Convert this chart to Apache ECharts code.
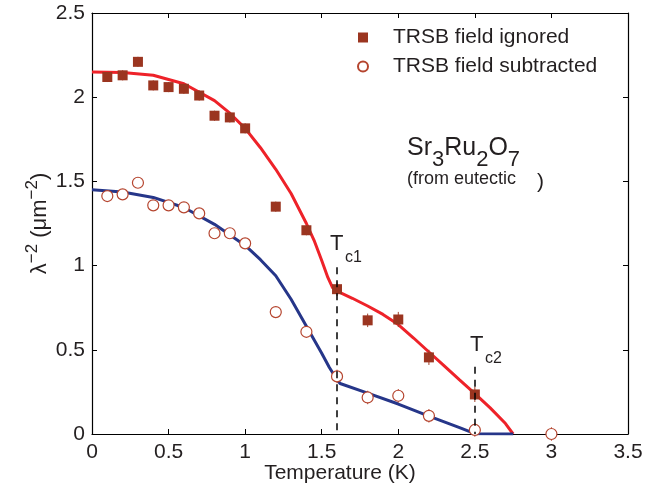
<!DOCTYPE html>
<html>
<head>
<meta charset="utf-8">
<script src="https://cdn.jsdelivr.net/npm/echarts@6/dist/echarts.min.js"></script>
<style>
  html, body { margin: 0; padding: 0; background: #fff; }
  #main { width: 665px; height: 496px; }
</style>
</head>
<body>
<div id="main"></div>
<script>
// measured points (temperature in K)
const tempPts = [0.1, 0.2, 0.3, 0.4, 0.5, 0.6, 0.7, 0.8, 0.9, 1.0, 1.2, 1.4, 1.6, 1.8, 2.0, 2.2, 2.5, 3.0];
const ignoredVals = [2.12, 2.13, 2.21, 2.07, 2.06, 2.05, 2.01, 1.89, 1.88, 1.815, 1.35, 1.21, 0.86, 0.675, 0.68, 0.455, 0.235, null];
const subtractedVals = [1.413, 1.423, 1.492, 1.358, 1.358, 1.346, 1.31, 1.192, 1.192, 1.132, 0.724, 0.607, 0.342, 0.217, 0.227, 0.108, 0.024, 0.0];
const ignoredErr = [0.03, 0.03, 0.03, 0.03, 0.03, 0.03, 0.03, 0.03, 0.03, 0.03, 0.03, 0.03, 0.04, 0.04, 0.045, 0.045, 0.045, 0];
const subtractedErr = [0.03, 0.03, 0.03, 0.03, 0.03, 0.03, 0.03, 0.03, 0.03, 0.03, 0.03, 0.03, 0.04, 0.04, 0.04, 0.04, 0.04, 0.04];

// fit curves
const redFitT = [0, 0.2, 0.4, 0.6, 0.8, 0.9, 1.0, 1.1, 1.2, 1.3, 1.4, 1.45, 1.5, 1.54, 1.57, 1.6, 1.7, 1.8, 1.9, 2.0, 2.1, 2.2, 2.3, 2.4, 2.5, 2.6, 2.7, 2.75];
const redFitV = [2.15, 2.147, 2.13, 2.08, 1.98, 1.905, 1.815, 1.70, 1.572, 1.428, 1.25, 1.15, 1.03, 0.93, 0.87, 0.848, 0.806, 0.76, 0.71, 0.65, 0.57, 0.487, 0.405, 0.322, 0.24, 0.155, 0.062, 0];
const blueFitT = [0, 0.2, 0.4, 0.6, 0.8, 1.0, 1.1, 1.2, 1.3, 1.4, 1.5, 1.55, 1.6, 1.62, 1.8, 2.0, 2.2, 2.3, 2.4, 2.5, 2.75];
const blueFitV = [1.45, 1.437, 1.405, 1.345, 1.245, 1.12, 1.035, 0.94, 0.80, 0.64, 0.48, 0.395, 0.322, 0.30, 0.243, 0.178, 0.106, 0.072, 0.038, 0.002, 0];

// Tc markers: temperature and top of dashed line
const tcTemps = [1.6, 2.5];
const tcTops = [0.99, 0.40];

const xTicks = { min: 0, max: 3.5, step: 0.5 };
const yTicks = { min: 0, max: 2.5, step: 0.5 };

const zip = (a, b) => a.map((x, i) => [x, b[i]]);
const errData = (vals, errs) => tempPts.map((t, i) => [t, vals[i], errs[i]]).filter(d => d[1] != null);

const FONT = '"Liberation Sans", Arial, Helvetica, sans-serif';
const TXT = '#231f20';

const errSeries = (data, color) => ({
  type: 'custom',
  silent: true,
  z: 3,
  data: data,
  renderItem: (params, api) => {
    const t = api.value(0), v = api.value(1), e = api.value(2);
    const p1 = api.coord([t, v - e]);
    const p2 = api.coord([t, v + e]);
    return {
      type: 'line',
      shape: { x1: p1[0], y1: p1[1], x2: p2[0], y2: p2[1] },
      style: { stroke: color, lineWidth: 1 }
    };
  }
});

const chart = echarts.init(document.getElementById('main'));

const axisCommon = {
  type: 'value',
  axisLine: { show: true, onZero: false, lineStyle: { color: '#000', width: 1.2 } },
  axisTick: { show: true, inside: true, length: 5, lineStyle: { color: '#000', width: 1 } },
  splitLine: { show: false }
};

const option = {
  backgroundColor: '#fff',
  animation: false,
  textStyle: { fontFamily: FONT },
  grid: { left: 92, right: 37, top: 13, bottom: 62, containLabel: false },
  legend: {
    orient: 'vertical',
    left: 357,
    top: 27,
    padding: 0,
    itemGap: 8,
    itemWidth: 10,
    itemHeight: 10,
    selectedMode: false,
    textStyle: { fontSize: 21, color: TXT, fontFamily: FONT, padding: [0, 0, 0, 20] },
    data: [
      { name: 'TRSB field ignored', icon: 'rect' },
      { name: 'TRSB field subtracted', icon: 'circle' }
    ]
  },
  xAxis: [
    Object.assign({}, axisCommon, {
      position: 'bottom',
      min: xTicks.min, max: xTicks.max, interval: xTicks.step,
      axisLabel: { fontSize: 21, color: TXT, margin: 8, fontFamily: FONT },
      name: 'Temperature (K)',
      nameLocation: 'middle',
      nameGap: 29,
      nameMoveOverlap: false,
      nameTextStyle: { fontSize: 21, color: TXT, fontFamily: FONT, padding: [0, 40, 0, 0] }
    }),
    Object.assign({}, axisCommon, {
      position: 'top',
      min: xTicks.min, max: xTicks.max, interval: xTicks.step,
      axisLabel: { show: false }
    })
  ],
  yAxis: [
    Object.assign({}, axisCommon, {
      position: 'left',
      min: yTicks.min, max: yTicks.max, interval: yTicks.step,
      axisLabel: { fontSize: 21, color: TXT, margin: 7, fontFamily: FONT },
      name: 'λ{sup|−2} (μm{sup|−2})',
      nameLocation: 'middle',
      nameGap: 40,
      nameMoveOverlap: false,
      nameTextStyle: {
        fontSize: 22, color: TXT, fontFamily: FONT, lineHeight: 24,
        rich: {
          sup: { fontSize: 17, color: TXT, fontFamily: FONT, padding: [0, 0, 16, 0] }
        }
      }
    }),
    Object.assign({}, axisCommon, {
      position: 'right',
      min: yTicks.min, max: yTicks.max, interval: yTicks.step,
      axisLabel: { show: false }
    })
  ],
  series: [
    {
      name: 'fit ignored',
      type: 'line',
      data: zip(redFitT, redFitV),
      showSymbol: false,
      symbol: 'none',
      lineStyle: { color: '#ee2229', width: 3 },
      z: 2,
      silent: true,
      markLine: {
        silent: true,
        symbol: 'none',
        label: { show: false },
        lineStyle: { color: '#000', width: 1.5, type: [7, 6] },
        data: tcTemps.map((t, i) => [{ coord: [t, tcTops[i]] }, { coord: [t, 0] }])
      }
    },
    {
      name: 'fit subtracted',
      type: 'line',
      data: zip(blueFitT, blueFitV),
      showSymbol: false,
      symbol: 'none',
      lineStyle: { color: '#263689', width: 3 },
      z: 2,
      silent: true
    },
    errSeries(errData(ignoredVals, ignoredErr), '#a0402a'),
    errSeries(errData(subtractedVals, subtractedErr), '#b5452f'),
    {
      name: 'TRSB field ignored',
      type: 'scatter',
      symbol: 'rect',
      symbolSize: 10,
      data: zip(tempPts, ignoredVals).filter(d => d[1] != null),
      itemStyle: { color: '#9b3520', opacity: 1 },
      z: 4
    },
    {
      name: 'TRSB field subtracted',
      type: 'scatter',
      symbol: 'circle',
      symbolSize: 11,
      data: zip(tempPts, subtractedVals),
      itemStyle: { color: '#fff', borderColor: '#b5452f', borderWidth: 1.2, opacity: 1 },
      z: 4
    }
  ],
  graphic: [
    {
      type: 'text', left: 407, top: 134,
      style: {
        text: 'Sr{s|3}Ru{s|2}O{s|7}',
        font: '25px ' + FONT,
        fill: TXT,
        lineHeight: 28,
        rich: {
          s: { fontSize: 22, fontFamily: FONT, fill: TXT, padding: [24, 0, 0, 0] }
        }
      }
    },
    {
      type: 'text', left: 407, top: 170,
      style: { text: '(from eutectic', font: '18px ' + FONT, fill: TXT }
    },
    {
      type: 'text', left: 537, top: 172,
      style: { text: ')', font: '21px ' + FONT, fill: TXT }
    },
    { type: 'text', left: 330, top: 233, style: { text: 'T', font: '22px ' + FONT, fill: TXT } },
    { type: 'text', left: 345, top: 250, style: { text: 'c1', font: '16px ' + FONT, fill: TXT } },
    { type: 'text', left: 470, top: 334, style: { text: 'T', font: '22px ' + FONT, fill: TXT } },
    { type: 'text', left: 485, top: 351, style: { text: 'c2', font: '16px ' + FONT, fill: TXT } }
  ]
};

chart.setOption(option);
</script>
</body>
</html>
